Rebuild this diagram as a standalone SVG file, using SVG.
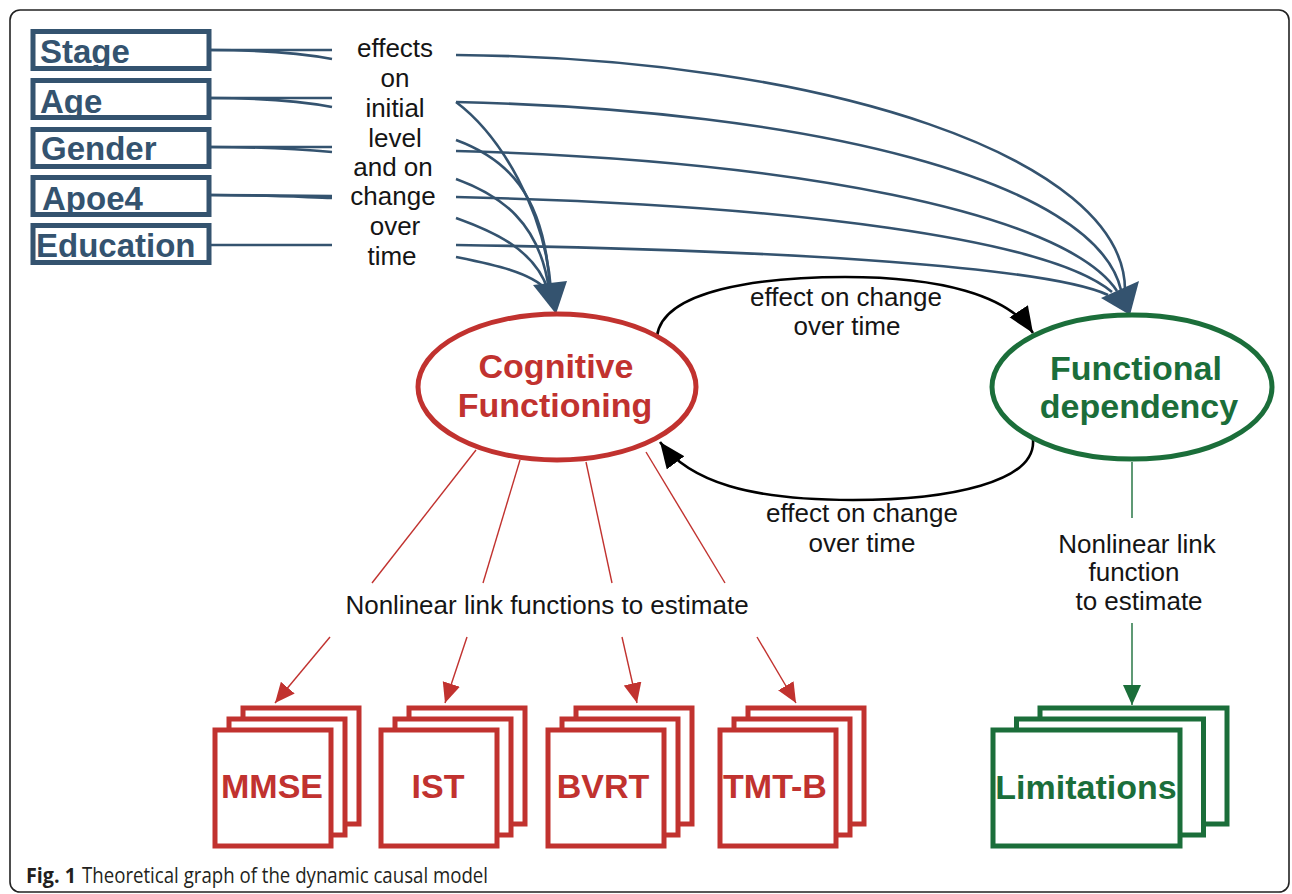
<svg xmlns="http://www.w3.org/2000/svg" width="1292" height="894" viewBox="0 0 1292 894">
<style>
.bg{fill:#ffffff}
.frame{fill:none;stroke:#222;stroke-width:1.6}
.cov{fill:#fff;stroke:#34536f;stroke-width:5}
.covt{font-family:"Liberation Sans",Arial,sans-serif;font-weight:bold;font-size:33px;fill:#34536f}
.lbl{font-family:"Liberation Sans",Arial,sans-serif;font-size:26px;fill:#151515;text-anchor:middle}
.nav{fill:none;stroke:#34536f;stroke-width:2.6}
.navh{fill:#34536f}
.blk{fill:none;stroke:#000;stroke-width:2.6}
.redl{fill:none;stroke:#c1322f;stroke-width:1.4}
.grnl{fill:none;stroke:#1b6e3a;stroke-width:1.4}
.cogE{fill:#fff;stroke:#c1322f;stroke-width:5}
.funE{fill:#fff;stroke:#1b6e3a;stroke-width:5}
.bt{font-family:"Liberation Sans",Arial,sans-serif;font-weight:bold;font-size:34px;text-anchor:middle}
.red{fill:#c1322f}
.grn{fill:#1b6e3a}
.rb{fill:#fff;stroke:#c1322f;stroke-width:5}
.gb{fill:#fff;stroke:#1b6e3a;stroke-width:5}
.cap{font-family:"Open Sans","Noto Sans",sans-serif;font-size:21px;fill:#231f20}
</style>
<defs>
<marker id="mBlk" markerUnits="userSpaceOnUse" markerWidth="28" markerHeight="24" refX="26" refY="11" orient="auto">
<path d="M0,0 L26,11 L0,22 z" fill="#000"/>
</marker>
<marker id="mRed" markerUnits="userSpaceOnUse" markerWidth="22" markerHeight="20" refX="20" refY="9" orient="auto">
<path d="M0,0 L20,9 L0,18 z" fill="#c1322f"/>
</marker>
<marker id="mGrn" markerUnits="userSpaceOnUse" markerWidth="22" markerHeight="20" refX="20" refY="9" orient="auto">
<path d="M0,0 L20,9 L0,18 z" fill="#1b6e3a"/>
</marker>
</defs>
<rect class="bg" x="0" y="0" width="1292" height="894"/>
<rect class="frame" x="10" y="10" width="1279" height="882" rx="10"/>

<g id="connectors">
<path class="nav" d="M210,50 L332,50"/>
<path class="nav" d="M210,50 C265,50 300,53 332,59"/>
<path class="nav" d="M210,98 L332,98"/>
<path class="nav" d="M210,98 C265,98 300,101 332,107"/>
<path class="nav" d="M210,147 L332,147"/>
<path class="nav" d="M210,147 C265,147 300,149 332,152"/>
<path class="nav" d="M210,195 L332,196"/>
<path class="nav" d="M210,195 C265,195 300,197 332,198"/>
<path class="nav" d="M210,245 L332,245"/>
<path class="nav" d="M456,102 C500,135 545,210 551,290"/>
<path class="nav" d="M456,140 C505,158 545,192 550,290"/>
<path class="nav" d="M456,179 C500,195 540,222 549,290"/>
<path class="nav" d="M456,218 C495,232 535,250 548,290"/>
<path class="nav" d="M456,257 C495,265 530,272 547,290"/>
<polygon class="navh" points="533,285 567,281 556,314"/>
<path class="nav" d="M456,55 C825,58 1125,158 1125,290"/>
<path class="nav" d="M456,102 C810,110 1095,180 1121,290"/>
<path class="nav" d="M456,151 C790,160 1065,212 1117,291"/>
<path class="nav" d="M456,197 C800,205 1050,240 1112,292"/>
<path class="nav" d="M456,245 C800,250 1050,268 1108,295"/>
<polygon class="navh" points="1101,298 1139,281 1130,315"/>
<path class="blk" marker-end="url(#mBlk)" d="M657,336 C663,290 760,277 845,277 C940,277 1008,295 1033,333"/>
<path class="blk" marker-end="url(#mBlk)" d="M1033,440 C1036,482 950,500 853,500 C750,500 690,482 660,442"/>
<path class="redl" d="M476,450 L372,583"/>
<path class="redl" d="M520,460 L483,583"/>
<path class="redl" d="M586,462 L612,583"/>
<path class="redl" d="M646,452 L725,583"/>
<path class="redl" marker-end="url(#mRed)" d="M330,637 L275,703"/>
<path class="redl" marker-end="url(#mRed)" d="M467,637 L445,703"/>
<path class="redl" marker-end="url(#mRed)" d="M622,637 L637,703"/>
<path class="redl" marker-end="url(#mRed)" d="M757,637 L796,703"/>
<path class="grnl" d="M1132,462 L1132,518"/>
<path class="grnl" marker-end="url(#mGrn)" d="M1132,623 L1132,705"/>
</g>

<g id="labels">
<text class="lbl" x="395" y="57">effects</text>
<text class="lbl" x="395" y="87">on</text>
<text class="lbl" x="395" y="117">initial</text>
<text class="lbl" x="395" y="147">level</text>
<text class="lbl" x="393" y="176">and on</text>
<text class="lbl" x="393" y="205">change</text>
<text class="lbl" x="395" y="235">over</text>
<text class="lbl" x="392" y="265">time</text>
<text class="lbl" x="846" y="306">effect on change</text>
<text class="lbl" x="847" y="335">over time</text>
<text class="lbl" x="862" y="522">effect on change</text>
<text class="lbl" x="862" y="552">over time</text>
<text class="lbl" x="547" y="614">Nonlinear link functions to estimate</text>
<text class="lbl" x="1137" y="553">Nonlinear link</text>
<text class="lbl" x="1134" y="581">function</text>
<text class="lbl" x="1139" y="610">to estimate</text>
</g>

<g id="node-stage"><rect class="cov" x="33" y="31.5" width="176" height="37"/><text class="covt" x="40" y="63">Stage</text></g>
<g id="node-age"><rect class="cov" x="33" y="80.5" width="176" height="37"/><text class="covt" x="40" y="113">Age</text></g>
<g id="node-gender"><rect class="cov" x="33" y="129.5" width="176" height="37"/><text class="covt" x="41" y="160">Gender</text></g>
<g id="node-apoe4"><rect class="cov" x="33" y="177.5" width="176" height="37"/><text class="covt" x="42" y="210">Apoe4</text></g>
<g id="node-education"><rect class="cov" x="33" y="225.5" width="176" height="37"/><text class="covt" x="36" y="257">Education</text></g>

<g id="node-cognitive">
<ellipse class="cogE" cx="557" cy="387" rx="139" ry="73"/>
<text class="bt red" x="556" y="378">Cognitive</text>
<text class="bt red" x="555" y="417">Functioning</text>
</g>

<g id="node-functional">
<ellipse class="funE" cx="1132" cy="387" rx="140" ry="72"/>
<text class="bt grn" x="1136" y="380">Functional</text>
<text class="bt grn" x="1139" y="418">dependency</text>
</g>

<g id="node-mmse">
<rect class="rb" x="243" y="708" width="116" height="116"/>
<rect class="rb" x="229" y="719" width="116" height="116"/>
<rect class="rb" x="215" y="730" width="116" height="116"/>
<text class="bt red" x="272" y="798">MMSE</text>
</g>
<g id="node-ist">
<rect class="rb" x="409" y="708" width="116" height="116"/>
<rect class="rb" x="395" y="719" width="116" height="116"/>
<rect class="rb" x="381" y="730" width="116" height="116"/>
<text class="bt red" x="438" y="798">IST</text>
</g>
<g id="node-bvrt">
<rect class="rb" x="576" y="708" width="116" height="116"/>
<rect class="rb" x="562" y="719" width="116" height="116"/>
<rect class="rb" x="548" y="730" width="116" height="116"/>
<text class="bt red" x="603" y="798">BVRT</text>
</g>
<g id="node-tmtb">
<rect class="rb" x="748" y="708" width="116" height="116"/>
<rect class="rb" x="734" y="719" width="116" height="116"/>
<rect class="rb" x="720" y="730" width="116" height="116"/>
<text class="bt red" x="775" y="798">TMT-B</text>
</g>
<g id="node-limitations">
<rect class="gb" x="1040" y="708" width="187" height="116"/>
<rect class="gb" x="1016.5" y="719" width="187" height="116"/>
<rect class="gb" x="993" y="730" width="187" height="116"/>
<text class="bt grn" x="1086" y="799">Limitations</text>
</g>

<g id="caption">
<text class="cap" x="26" y="883" font-weight="bold" textLength="50" lengthAdjust="spacingAndGlyphs">Fig. 1</text>
<text class="cap" x="82" y="883" textLength="406" lengthAdjust="spacingAndGlyphs">Theoretical graph of the dynamic causal model</text>
</g>
</svg>
